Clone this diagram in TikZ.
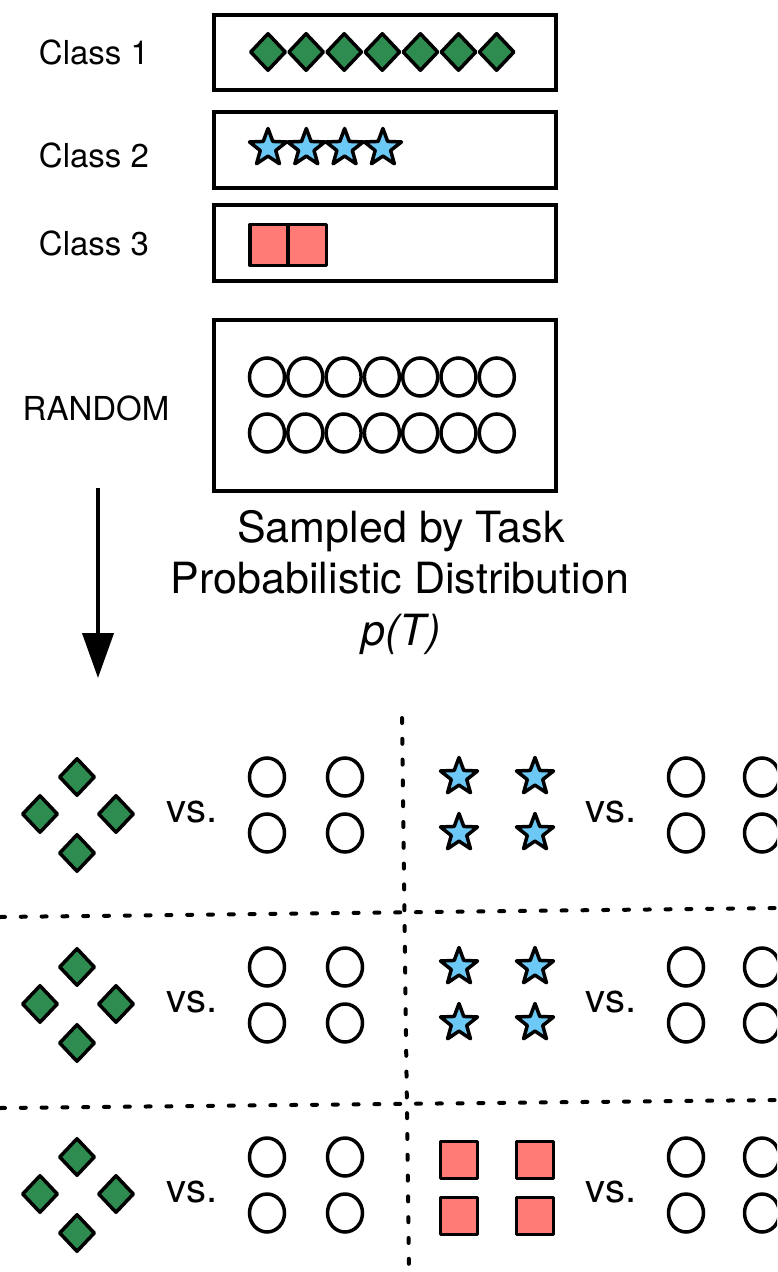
\documentclass[tikz,border=0pt]{standalone}
\usepackage{fontspec}
\setmainfont{TeX Gyre Heros}
\usetikzlibrary{arrows.meta,shapes.geometric}
\definecolor{gemcol}{RGB}{46,140,80}
\definecolor{starcol}{RGB}{108,200,244}
\definecolor{sqcol}{RGB}{255,123,117}

\tikzset{
  clsbox/.style={draw,line width=2pt,minimum width=171pt,inner sep=0pt},
  gem/.style={diamond,draw,fill=gemcol,line width=1.75pt,line join=round,
    minimum width=18pt,minimum height=19pt,inner sep=0pt},
  bluestar/.style={star,star points=5,star point ratio=2.4,draw,fill=starcol,
    line width=1.75pt,line join=round,minimum size=19.5pt,inner sep=0pt},
  redsq/.style={rectangle,draw,fill=sqcol,line width=1.75pt,line join=round,
    minimum width=18.5pt,minimum height=18.5pt,inner sep=0pt},
  rnd/.style={ellipse,draw,line width=1.75pt,minimum width=17.5pt,minimum height=19pt,inner sep=0pt},
  lbl/.style={font=\fontsize{16.5}{20}\selectfont},
  vslbl/.style={font=\fontsize{20}{24}\selectfont},
  sep/.style={line width=2pt,line cap=round,dash pattern=on 2.5pt off 7.9pt}
}

\begin{document}
\begin{tikzpicture}[x=0.5pt,y=-0.5pt]
\useasboundingbox (0,0) rectangle (777,1272);
\clip (0,0) rectangle (777,1272);

% the class pools
\node[clsbox,minimum height=37.5pt] (box1) at (385,52.5) {};
\node[clsbox,minimum height=38pt] (box2) at (385,150) {};
\node[clsbox,minimum height=38pt] (box3) at (385,243) {};
\node[clsbox,minimum height=85.5pt] (boxr) at (385,405.5) {};
\node[lbl] (cls1) at (94,52) {Class 1};
\node[lbl] (cls2) at (94,155) {Class 2};
\node[lbl] (cls3) at (94,243) {Class 3};
\node[lbl] (rand) at (96,408) {RANDOM};

\foreach \i in {0,...,6}
  \node[gem] (g\i) at ({268+38.1*\i},52) {};
\foreach \i in {0,...,3}
  \node[bluestar] (s\i) at ({268+38.3*\i},148) {};
\node[redsq,minimum width=19pt,minimum height=20.5pt] (q0) at (269,245) {};
\node[redsq,minimum width=19pt,minimum height=20.5pt] (q1) at (307.5,245) {};
\foreach \r/\y in {a/377,b/433}
  \foreach \i in {0,...,6}
    \node[rnd] (r\r\i) at ({267+38.3*\i},\y) {};

% sampling
\coordinate (arrtop) at (98,488);
\coordinate (arrbot) at (98,678);
\draw[-{Triangle[width=15.5pt,length=22.5pt]},line width=2pt] (arrtop) -- (arrbot);
\node[font=\fontsize{21.5}{26}\selectfont,anchor=base] (samp1) at (401,542) {Sampled by Task};
\node[font=\fontsize{21.5}{26}\selectfont,anchor=base] (samp2) at (400,593) {Probabilistic Distribution};
\node[font=\fontsize{21.5}{26}\selectfont,anchor=base] (samp3) at (401,645) {\textit{p(T)}};

% sampled tasks
\draw[sep] (402,718) -- (409,1272);
\draw[sep] (0,917) -- (777,908);
\draw[sep] (0,1108) -- (777,1100);

\foreach \k/\y/\kind/\dy in {1/777/bluestar/0,2/967/bluestar/0,3/1157/redsq/3}{
  \node[gem] (dt\k) at (77,\y) {};
  \node[gem] (dl\k) at (40,\y+37) {};
  \node[gem] (dr\k) at (116,\y+37) {};
  \node[gem] (db\k) at (77,\y+76) {};
  \node[vslbl] (vsl\k) at (192,\y+35) {vs.};
  \node[rnd] (la\k) at (267,\y) {};
  \node[rnd] (lb\k) at (345,\y) {};
  \node[rnd] (lc\k) at (267,\y+56) {};
  \node[rnd] (ld\k) at (345,\y+56) {};
  \node[\kind] (pa\k) at (459,\y+\dy) {};
  \node[\kind] (pb\k) at (535,\y+\dy) {};
  \node[\kind] (pc\k) at (459,\y+56+\dy) {};
  \node[\kind] (pd\k) at (535,\y+56+\dy) {};
  \node[vslbl] (vsr\k) at (611,\y+35) {vs.};
  \node[rnd] (ra\k) at (686,\y) {};
  \node[rnd] (rb\k) at (762,\y) {};
  \node[rnd] (rc\k) at (686,\y+56) {};
  \node[rnd] (rd\k) at (762,\y+56) {};
}
\end{tikzpicture}
\end{document}
